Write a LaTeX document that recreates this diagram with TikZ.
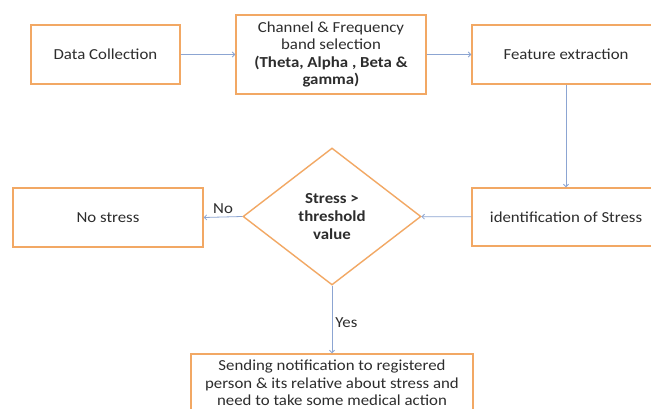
\documentclass[tikz,border=0pt]{standalone}
\usepackage{fontspec}
\setmainfont{Carlito}[FakeStretch=1.1]
\usetikzlibrary{shapes.geometric,arrows.meta}
\definecolor{boxorange}{RGB}{242,168,100}
\definecolor{arrowblue}{RGB}{140,165,210}
\definecolor{txtgray}{RGB}{45,45,45}
\tikzset{
  every node/.style={font=\fontsize{15.3}{17.6}\selectfont, text=txtgray},
  procbox/.style={draw=boxorange, line width=1.4pt, fill=white, inner sep=0pt, align=center},
  decbox/.style={diamond, draw=boxorange, line width=1.4pt, fill=white, inner sep=0pt, align=center,
    minimum width=178pt, minimum height=137pt},
  conn/.style={draw=arrowblue, line width=0.8pt, -{Straight Barb[length=2.5pt,width=5pt]}},
  lbl/.style={inner sep=1pt}
}
\begin{document}
\begin{tikzpicture}[x=1pt,y=-1pt]
\clip (0,0) rectangle (651,409);
\fill[white] (0,0) rectangle (651,409);
\node[procbox, minimum width=149pt, minimum height=59pt] (dc) at (105.5,54.5) {Data Collection};
\node[procbox, minimum width=190pt, minimum height=79pt] (ch) at (331,54.5) {Channel \& Frequency\\band selection\\\textbf{(Theta, Alpha , Beta \&}\\\textbf{gamma)}};
\node[procbox, minimum width=188pt, minimum height=59pt] (fe) at (566,54.5) {Feature extraction};
\node[procbox, minimum width=188pt, minimum height=58pt] (id) at (566,217) {identification of Stress};
\node[decbox] (dm) at (332,216.5) {\textbf{Stress >}\\\textbf{threshold}\\\textbf{value}};
\node[procbox, minimum width=190pt, minimum height=59pt] (ns) at (108,217.5) {No stress};
\node[procbox, minimum width=282pt, minimum height=58pt] (nt) at (332,383) {Sending notification to registered\\person \& its relative about stress and\\need to take some medical action};
\draw[conn] (dc) -- (ch);
\draw[conn] (ch) -- (fe);
\draw[conn] (fe) -- (id);
\draw[conn] (id) -- (dm);
\draw[conn] (dm.west) -- node[lbl, above, yshift=2pt] {No} (ns.east);
\draw[conn] (dm.south) -- node[lbl, right, xshift=2pt, yshift=-3pt] {Yes} (nt.north);
\end{tikzpicture}
\end{document}
